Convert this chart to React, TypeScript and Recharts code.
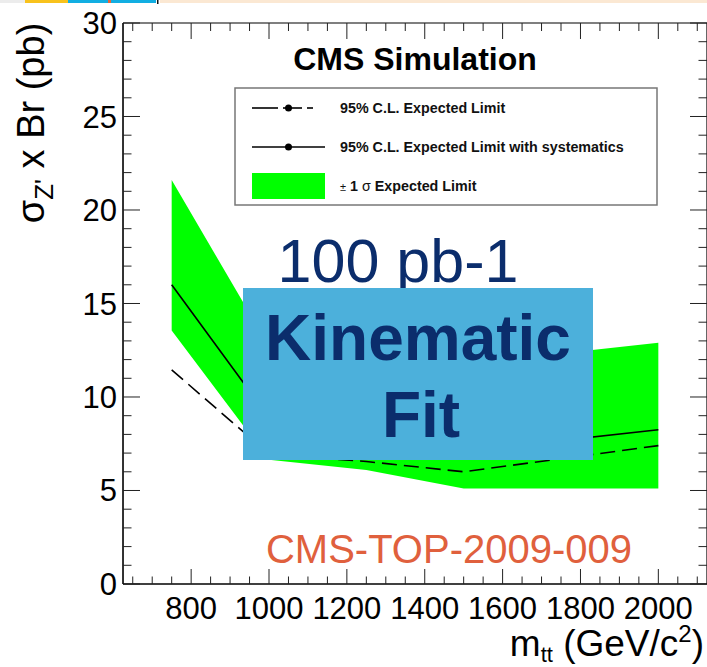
import React from 'react';
import { ComposedChart, Area, Line, XAxis, YAxis } from 'recharts';

// Z' masses and expected limits (pb)
const masses = [750, 1000, 1250, 1500, 2000];
const bandLow = [13.55, 6.65, 6.1, 5.1, 5.1];
const bandHigh = [21.6, 12.7, 12.2, 11.75, 12.9];
const limitSyst = [16.0, 8.9, 7.6, 7.1, 8.25];
const limitExpected = [11.45, 6.95, 6.55, 6.0, 7.4];

const xTicks = [800, 1000, 1200, 1400, 1600, 1800, 2000];
const yTicks = [0, 5, 10, 15, 20, 25, 30];

const X_DOMAIN: [number, number] = [625, 2125];
const Y_DOMAIN: [number, number] = [0, 30];

// minor + major tick positions (axis decoration only), labels only on majors
const xAllTicks: number[] = [];
for (let v = 650; v <= 2100; v += 50) xAllTicks.push(v);
const yAllTicks: number[] = [];
for (let v = 0; v <= 30; v += 1) yAllTicks.push(v);

const data = masses.map((m, i) => ({
  m,
  band: [bandLow[i], bandHigh[i]],
  syst: limitSyst[i],
  exp: limitExpected[i],
}));

const W = 707;
const H = 667;
const FONT = '"Liberation Sans", Arial, Helvetica, sans-serif';
const NAVY = '#0b2d6c';
const TICK = '#222';
const THIN = 0.01; // axes need a non-zero size to be drawn
const PLOT = { left: 123, top: 23, right: 707, bottom: 584 };

// ROOT style: ticks point into the frame on all four sides
const XTick = (props: any) => {
  const { x, y, payload } = props;
  const major = xTicks.includes(payload.value);
  return (
    <g>
      <line x1={x} x2={x} y1={PLOT.bottom} y2={PLOT.bottom - (major ? 15 : 7.5)} stroke={TICK} />
      <line x1={x} x2={x} y1={PLOT.top} y2={PLOT.top + (major ? 16 : 8)} stroke={TICK} />
      {major && (
        <text x={x} y={y} dy="0.71em" textAnchor="middle" fontSize={31} fill="#000" fontFamily={FONT}>
          {payload.value}
        </text>
      )}
    </g>
  );
};

const YTick = (props: any) => {
  const { x, y, payload } = props;
  const major = yTicks.includes(payload.value);
  return (
    <g>
      <line x1={PLOT.left} x2={PLOT.left + (major ? 17 : 8.5)} y1={y} y2={y} stroke={TICK} />
      <line x1={PLOT.right} x2={PLOT.right - (major ? 17 : 8.5)} y1={y} y2={y} stroke={TICK} />
      {major && (
        <text x={x} y={y} dy="0.355em" textAnchor="end" fontSize={31} fill="#000" fontFamily={FONT}>
          {payload.value}
        </text>
      )}
    </g>
  );
};

export default function App() {
  return (
    <div style={{ position: 'absolute', left: 0, top: 0, width: W, height: H, background: '#fff', fontFamily: FONT }}>
      <ComposedChart
        width={W}
        height={H}
        data={data}
        margin={{ top: PLOT.top, right: W - PLOT.right, bottom: H - PLOT.bottom, left: PLOT.left }}
        style={{ fontFamily: FONT }}
      >
        <XAxis
          xAxisId="main"
          dataKey="m"
          type="number"
          domain={X_DOMAIN}
          ticks={xAllTicks}
          interval={0}
          allowDataOverflow
          height={THIN}
          tickLine={false}
          tickSize={0}
          tickMargin={13}
          axisLine={{ stroke: '#000', strokeWidth: 1.6 }}
          tick={XTick}
        />
        <YAxis
          yAxisId="main"
          type="number"
          domain={Y_DOMAIN}
          ticks={yAllTicks}
          interval={0}
          allowDataOverflow
          width={THIN}
          tickLine={false}
          tickSize={0}
          tickMargin={6}
          axisLine={{ stroke: '#000', strokeWidth: 1.6 }}
          tick={YTick}
        />
        {/* top and right frame lines */}
        <XAxis xAxisId="top" orientation="top" type="number" domain={X_DOMAIN} allowDataOverflow height={THIN} mirror tick={false} tickLine={false} axisLine={{ stroke: '#000', strokeWidth: 1.2 }} />
        <YAxis yAxisId="right" orientation="right" type="number" domain={Y_DOMAIN} allowDataOverflow width={THIN} mirror tick={false} tickLine={false} axisLine={{ stroke: '#000', strokeWidth: 1.2 }} />

        <Area
          xAxisId="main"
          yAxisId="main"
          type="linear"
          dataKey="band"
          fill="#00ff00"
          fillOpacity={1}
          stroke="none"
          dot={false}
          activeDot={false}
          isAnimationActive={false}
        />
        <Line
          xAxisId="main"
          yAxisId="main"
          type="linear"
          dataKey="exp"
          stroke="#000"
          strokeWidth={1.6}
          strokeDasharray="15 7"
          dot={false}
          activeDot={false}
          isAnimationActive={false}
        />
        <Line
          xAxisId="main"
          yAxisId="main"
          type="linear"
          dataKey="syst"
          stroke="#000"
          strokeWidth={1.6}
          dot={false}
          activeDot={false}
          isAnimationActive={false}
        />
      </ComposedChart>

      {/* slide annotations on top of the plot */}
      <svg width={W} height={H} style={{ position: 'absolute', left: 0, top: 0, pointerEvents: 'none', fontFamily: FONT }}>
        {/* slide header strip */}
        <rect x={0} y={0} width={25} height={3} fill="#ececec" />
        <rect x={25} y={0} width={43} height={3} fill="#f8c21c" />
        <rect x={68} y={0} width={88} height={3} fill="#12aee2" />
        <rect x={108} y={0} width={3} height={3} fill="#e8663a" />
        <rect x={157} y={0} width={1.5} height={4} fill="#111" />
        <rect x={160} y={0} width={547} height={3} fill="#fbe8d3" />

        {/* axis titles */}
        <text x={44} y={123} transform="rotate(-90 44 123)" textAnchor="middle" fontSize={38} fill="#000">
          σ<tspan dy={9} fontSize={26}>Z'</tspan>
          <tspan dy={-9}> x Br (pb)</tspan>
        </text>
        <text x={704} y={656} textAnchor="end" fontSize={37} fill="#000">
          m<tspan dy={6} fontSize={22}>tt</tspan>
          <tspan dy={-6}> (GeV/c</tspan>
          <tspan dy={-14} fontSize={24}>2</tspan>
          <tspan dy={14}>)</tspan>
        </text>

        <text x={415} y={70} textAnchor="middle" fontSize={32} fontWeight="bold" fill="#000">CMS Simulation</text>

        {/* legend */}
        <rect x={235} y={88} width={422} height={117} fill="#fff" stroke="#777" strokeWidth={1.5} />
        <line x1={252} y1={108} x2={278} y2={108} stroke="#000" strokeWidth={1.6} />
        <line x1={283} y1={108} x2={302} y2={108} stroke="#000" strokeWidth={1.6} />
        <line x1={307} y1={108} x2={313} y2={108} stroke="#000" strokeWidth={1.6} />
        <circle cx={288.5} cy={108} r={3.5} fill="#000" />
        <text x={340} y={113} fontSize={14.3} fontWeight="bold" fill="#111">95% C.L. Expected Limit</text>
        <line x1={252} y1={147} x2={325} y2={147} stroke="#000" strokeWidth={1.6} />
        <circle cx={288.5} cy={147} r={3.5} fill="#000" />
        <text x={340} y={152} fontSize={14.3} fontWeight="bold" fill="#111">95% C.L. Expected Limit with systematics</text>
        <rect x={252} y={173} width={73} height={26} fill="#00ff00" />
        <text x={340} y={191} fontSize={14.3} fontWeight="bold" fill="#111">
          <tspan fontWeight="normal" fontSize={11}>±</tspan> 1 <tspan fontWeight="normal">σ</tspan> Expected Limit
        </text>

        {/* luminosity + analysis label */}
        <text x={398} y={282} textAnchor="middle" fontSize={61} fill={NAVY}>100 pb-1</text>
        <rect x={243} y={288} width={350} height={172} fill="#4cb0db" />
        <text x={418} y={360} textAnchor="middle" fontSize={64} fontWeight="bold" fill={NAVY}>Kinematic</text>
        <text x={421} y={437} textAnchor="middle" fontSize={64} fontWeight="bold" fill={NAVY}>Fit</text>

        <text x={449} y={563} textAnchor="middle" fontSize={40} fill="#e0603d">CMS-TOP-2009-009</text>
      </svg>
    </div>
  );
}
